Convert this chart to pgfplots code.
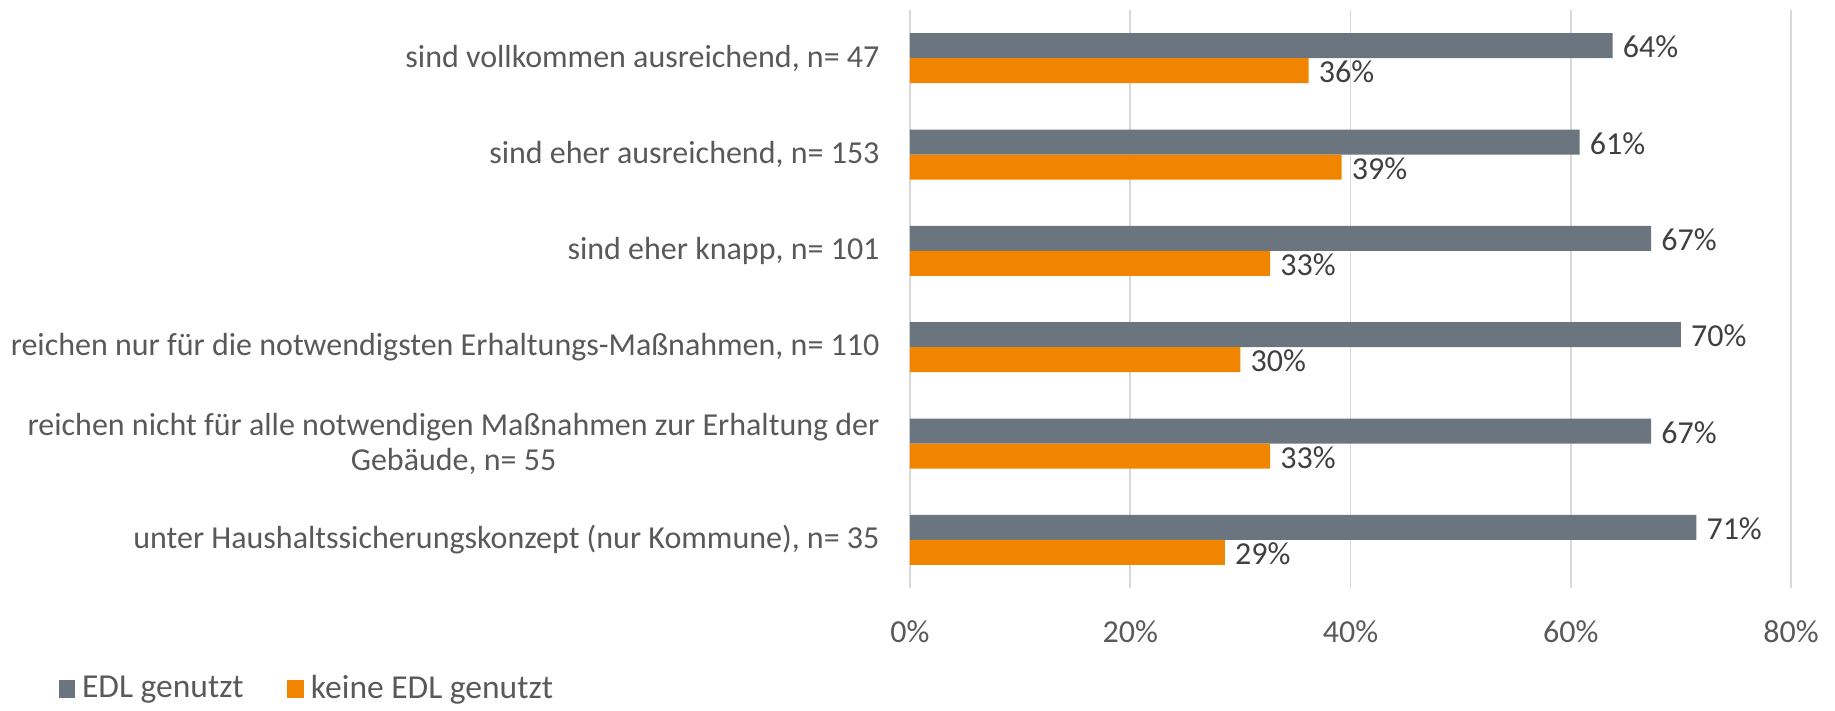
\documentclass[border=0pt]{standalone}
\usepackage{fontspec}
\setmainfont{Carlito}
\usepackage{pgfplots}
\pgfplotsset{compat=1.18}

\definecolor{edlgray}{HTML}{6B7580}
\definecolor{edlorange}{HTML}{F28500}
\definecolor{labelgray}{HTML}{595959}
\definecolor{valgray}{HTML}{404040}
\definecolor{gridgray}{HTML}{D9D9D9}

\begin{document}
\begin{tikzpicture}
\begin{axis}[
    xbar,
    scale only axis,
    width=352.4pt, height=231.2pt,
    xmin=0, xmax=80,
    ymin=-0.5, ymax=5.5,
    bar width=10pt,
    ytick={0,1,2,3,4,5},
    yticklabels={
        unter Haushaltssicherungskonzept (nur Kommune){,} n= 35,
        reichen nicht für alle notwendigen Maßnahmen zur Erhaltung der\\Gebäude{,} n= 55,
        reichen nur für die notwendigsten Erhaltungs-Maßnahmen{,} n= 110,
        sind eher knapp{,} n= 101,
        sind eher ausreichend{,} n= 153,
        sind vollkommen ausreichend{,} n= 47},
    xtick={0,20,40,60,80},
    xticklabels={0\%,20\%,40\%,60\%,80\%},
    xmajorgrids=true,
    grid style={gridgray, line width=0.6pt},
    axis line style={draw=none},
    major tick length=0pt,
    tick label style={font=\fontsize{12.8}{14}\selectfont, text=labelgray},
    yticklabel style={align=center, anchor=east, inner sep=0pt, xshift=-12pt},
    xticklabel style={anchor=center, yshift=-17.6pt},
    nodes near coords={\pgfmathprintnumber[fixed,precision=0]{\pgfplotspointmeta}\%},
    /pgf/number format/assume math mode=true,
    every node near coord/.append style={font=\fontsize{12.8}{14}\selectfont,
        text=valgray, anchor=west, inner sep=0pt, xshift=3.9pt, yshift=-0.6pt},
    legend columns=2,
    legend style={at={(rel axis cs:-0.967,-0.174)}, anchor=west,
        draw=none, fill=none, inner sep=0pt,
        font=\fontsize{13.4}{14}\selectfont, text=labelgray,
        nodes={inner sep=0pt},
        /tikz/every odd column/.append style={column sep=2.8pt},
        /tikz/every even column/.append style={column sep=17.5pt}},
    legend image code/.code={\fill[#1] (0pt,-3.8pt) rectangle (6.6pt,3.6pt);},
]
\addplot[fill=edlgray, draw=none, bar shift=5pt]
    coordinates {(71.4,0) (67.3,1) (70.0,2) (67.3,3) (60.8,4) (63.8,5)};
\addlegendentry{EDL genutzt}
\addplot[fill=edlorange, draw=none, bar shift=-5pt]
    coordinates {(28.6,0) (32.7,1) (30.0,2) (32.7,3) (39.2,4) (36.2,5)};
\addlegendentry{keine EDL genutzt}
\end{axis}
\path ([xshift=-364pt,yshift=4pt]current axis.north west)
    rectangle ([xshift=17.6pt,yshift=-49pt]current axis.south east);
\end{tikzpicture}
\end{document}
